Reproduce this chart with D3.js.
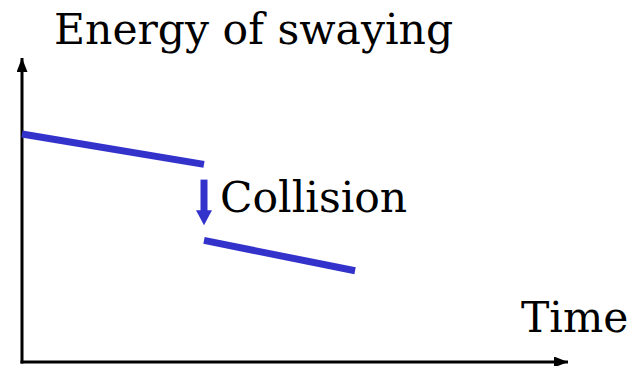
<!DOCTYPE html>
<html>
<head>
<meta charset="utf-8">
<script src="https://cdn.jsdelivr.net/npm/d3@7"></script>
<style>
  body { margin: 0; background: #fff; }
  text { font-family: "DejaVu Serif", serif; fill: #000; }
</style>
</head>
<body>
<div id="chart"></div>
<script>
var width = 636;
var height = 366;

// swaying energy before and after the collision
var timeBefore = [0, 5];
var energyBefore = [7.5, 6.5];
var timeAfter = [5, 9.15];
var energyAfter = [4, 3];
// collision drop arrow (time, energy from -> to)
var collisionTime = 5;
var collisionFrom = 6;
var collisionTo = 4.5;

var svg = d3.select('#chart').append('svg')
    .attr('width', width)
    .attr('height', height);

var x = d3.scaleLinear().domain([0, 15]).range([22, 568]);
var y = d3.scaleLinear().domain([0, 10]).range([362, 58]);

var defs = svg.append('defs');
defs.append('marker')
    .attr('id', 'axisHead')
    .attr('viewBox', '0 0 14 11')
    .attr('refX', 14).attr('refY', 5.5)
    .attr('markerWidth', 14).attr('markerHeight', 11)
    .attr('markerUnits', 'userSpaceOnUse')
    .attr('orient', 'auto')
    .append('path')
    .attr('d', 'M0,0L14,5.5L0,11Z')
    .attr('fill', '#000');

// axes
svg.append('line')
    .attr('x1', x(0)).attr('y1', y(0) + 1.5)
    .attr('x2', x(0)).attr('y2', y(10))
    .attr('stroke', '#000').attr('stroke-width', 3)
    .attr('marker-end', 'url(#axisHead)');
svg.append('line')
    .attr('x1', x(0) - 1.5).attr('y1', y(0))
    .attr('x2', x(15)).attr('y2', y(0))
    .attr('stroke', '#000').attr('stroke-width', 3)
    .attr('marker-end', 'url(#axisHead)');

var line = d3.line()
    .x(function(d) { return x(d[0]); })
    .y(function(d) { return y(d[1]); });

svg.append('path')
    .datum(d3.zip(timeBefore, energyBefore))
    .attr('d', line)
    .attr('fill', 'none')
    .attr('stroke', '#3333cc')
    .attr('stroke-width', 7);

svg.append('path')
    .datum(d3.zip(timeAfter, energyAfter))
    .attr('d', line)
    .attr('fill', 'none')
    .attr('stroke', '#3333cc')
    .attr('stroke-width', 7);

// collision arrow
var cx = x(collisionTime);
var headLen = 15;
svg.append('line')
    .attr('x1', cx).attr('y1', y(collisionFrom))
    .attr('x2', cx).attr('y2', y(collisionTo) - headLen + 1)
    .attr('stroke', '#3333cc')
    .attr('stroke-width', 7);
svg.append('path')
    .attr('d', 'M' + (cx - 8) + ',' + (y(collisionTo) - headLen) +
        'L' + (cx + 8) + ',' + (y(collisionTo) - headLen) +
        'L' + cx + ',' + y(collisionTo) + 'Z')
    .attr('fill', '#3333cc');

// labels
svg.append('text')
    .attr('x', 54).attr('y', 44)
    .attr('font-size', 42.5)
    .text('Energy of swaying');
svg.append('text')
    .attr('x', 220).attr('y', 212)
    .attr('font-size', 42.5)
    .text('Collision');
svg.append('text')
    .attr('x', 521).attr('y', 332)
    .attr('font-size', 42.5)
    .text('Time');
</script>
</body>
</html>
